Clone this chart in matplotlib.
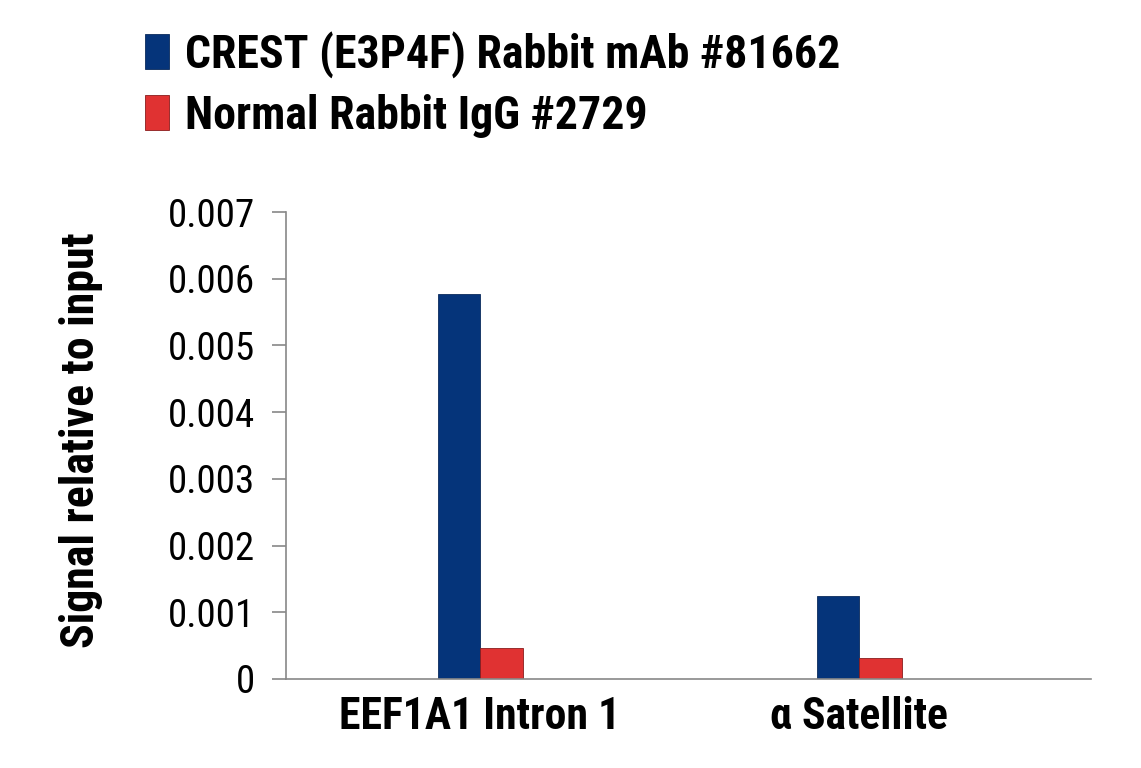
import matplotlib
matplotlib.use("Agg")
import matplotlib.pyplot as plt
import numpy as np

categories = ["EEF1A1 Intron 1", "α Satellite"]
series_names = ["CREST (E3P4F) Rabbit mAb #81662", "Normal Rabbit IgG #2729"]
crest_values = [0.00577, 0.00125]
igg_values = [0.00047, 0.00032]
yticks = [0, 0.001, 0.002, 0.003, 0.004, 0.005, 0.006, 0.007]
ytick_labels = ["0", "0.001", "0.002", "0.003", "0.004", "0.005", "0.006", "0.007"]

FONT = ["Liberation Sans Narrow", "Roboto Condensed", "DejaVu Sans"]
plt.rcParams["font.family"] = FONT

fig = plt.figure(figsize=(11.41, 7.68), dpi=100)
ax = fig.add_axes([0.2507, 0.1159, 0.7055, 0.608])

x = np.arange(len(categories))
w = 0.112
b1 = ax.bar(x - w / 2, crest_values, w, color="#05347a", edgecolor="#0a2a5c", linewidth=0.6,
            label=series_names[0])
b2 = ax.bar(x + w / 2, igg_values, w, color="#e03232", edgecolor="#8a1c1c", linewidth=0.6,
            label=series_names[1])

ax.set_xlim(-0.512, 1.612)
ax.set_ylim(0, 0.007)
ax.set_yticks(yticks)
ax.set_yticklabels(ytick_labels, fontsize=28)
ax.set_xticks(x)
ax.set_xticklabels(categories, fontsize=31.5, fontweight="bold")
ax.tick_params(axis="x", length=0, pad=12)
ax.tick_params(axis="y", length=10, width=1.2, color="#888888", pad=12, direction="out")
for s in ["top", "right"]:
    ax.spines[s].set_visible(False)
for s in ["left", "bottom"]:
    ax.spines[s].set_color("#888888")
    ax.spines[s].set_linewidth(1.2)
ax.spines["left"].set_bounds(0, 0.007)

ax.set_ylabel("Signal relative to input", fontsize=33, fontweight="bold")
ax.yaxis.set_label_coords(-0.227, 0.512)

leg = fig.legend(handles=[b1, b2], labels=series_names, loc="upper left",
                 bbox_to_anchor=(145 / 1141, 1 - 31 / 768), frameon=False,
                 prop={"size": 33, "weight": "bold", "family": FONT},
                 handlelength=0.52, handleheight=0.79, handletextpad=0.35,
                 labelspacing=0.34, borderaxespad=0, borderpad=0)

fig.savefig("out.png", dpi=100)
